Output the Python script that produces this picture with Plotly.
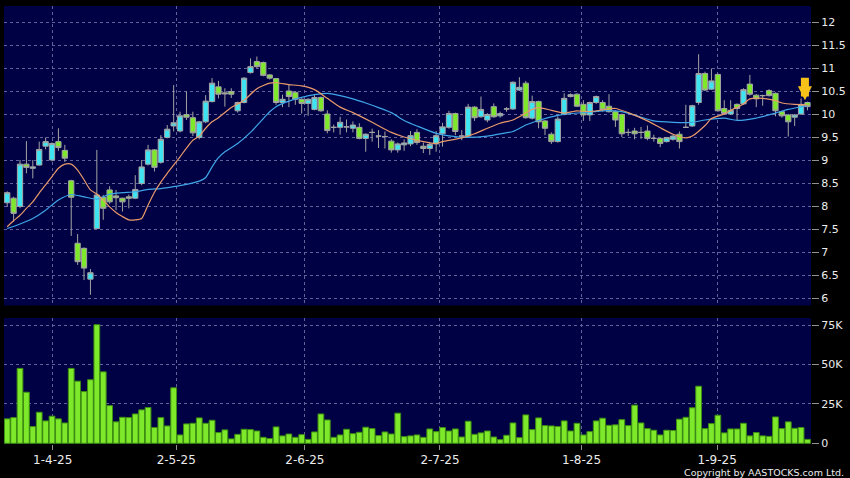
import plotly.graph_objects as go

# ---------------- data ----------------
date_labels = ["1-4-25", "2-5-25", "2-6-25", "2-7-25", "1-8-25", "1-9-25"]
date_label_bar = [7.1, 26.4, 46.5, 67.6, 89.7, 110.9]   # bar index where each date tick sits

open_ = [8.07, 8.17, 7.99, 8.91, 8.82, 8.89, 9.30, 9.00, 9.40, 9.21,
         8.55, 7.19, 7.08, 6.41, 7.51, 8.19, 8.35, 8.22, 8.17, 8.20,
         8.17, 8.49, 8.91, 9.22, 8.95, 9.49, 9.74, 9.63, 9.99, 9.92,
         9.49, 9.83, 10.27, 10.59, 10.46, 10.49, 10.07, 10.25, 10.90, 11.14,
         11.12, 10.85, 10.77, 10.25, 10.50, 10.47, 10.32, 10.23, 10.10, 10.36,
         10.00, 9.71, 9.71, 9.72, 9.69, 9.71, 9.47, 9.60, 9.52, 9.51,
         9.41, 9.22, 9.33, 9.35, 9.60, 9.30, 9.25, 9.35, 9.57, 9.71,
         10.01, 9.52, 9.52, 10.15, 9.94, 9.87, 10.16, 9.96, 10.11, 10.11,
         10.52, 10.67, 9.91, 10.27, 9.85, 9.56, 9.40, 9.99, 10.38, 10.43,
         10.21, 9.98, 10.25, 10.25, 10.17, 10.05, 9.99, 9.60, 9.63, 9.60,
         9.63, 9.47, 9.47, 9.40, 9.45, 9.56, 9.71, 9.74, 10.25, 10.88,
         10.54, 10.86, 10.12, 10.00, 10.21, 10.22, 10.65, 10.41, 10.40, 10.51,
         10.45, 10.05, 9.98, 9.93, 10.00, 10.25]
high = [8.32, 8.20, 9.00, 9.41, 9.00, 9.40, 9.49, 9.38, 9.69, 9.33,
        8.57, 7.39, 7.10, 6.63, 9.22, 8.24, 8.43, 8.35, 8.18, 8.25,
        8.67, 9.00, 9.33, 9.24, 9.54, 9.76, 10.63, 10.05, 10.49, 10.05,
        9.85, 10.41, 10.78, 10.72, 10.56, 10.56, 10.27, 10.80, 11.21, 11.25,
        11.14, 10.87, 10.78, 10.42, 10.65, 10.50, 10.34, 10.34, 10.42, 10.38,
        10.08, 9.77, 9.94, 9.88, 9.84, 9.80, 9.58, 9.68, 9.65, 9.62,
        9.45, 9.38, 9.45, 9.63, 9.67, 9.38, 9.38, 9.63, 9.81, 10.07,
        10.03, 9.65, 10.22, 10.17, 10.38, 10.02, 10.23, 10.05, 10.15, 10.71,
        10.80, 10.72, 10.40, 10.29, 9.87, 9.60, 9.95, 10.45, 10.45, 10.45,
        10.30, 10.27, 10.40, 10.30, 10.43, 10.08, 10.01, 9.68, 9.70, 9.72,
        9.75, 9.55, 9.48, 9.50, 9.55, 9.62, 10.20, 10.20, 11.30, 10.92,
        10.99, 10.88, 10.30, 10.30, 10.23, 10.56, 10.85, 10.43, 10.42, 10.54,
        10.47, 10.07, 10.00, 10.00, 10.34, 10.27]
low = [7.98, 7.66, 7.95, 8.71, 8.60, 8.88, 9.23, 8.97, 9.20, 8.96,
       7.35, 6.72, 6.39, 6.07, 7.51, 7.70, 8.05, 7.91, 7.88, 7.95,
       8.15, 8.45, 8.88, 8.75, 8.92, 9.47, 9.62, 9.60, 9.87, 9.52,
       9.45, 9.80, 10.25, 10.34, 10.16, 10.35, 10.03, 10.23, 10.88, 11.00,
       10.82, 10.75, 10.20, 10.15, 10.15, 10.20, 10.01, 9.96, 10.08, 10.05,
       9.58, 9.60, 9.55, 9.60, 9.60, 9.45, 9.18, 9.40, 9.26, 9.25,
       9.16, 9.16, 9.20, 9.30, 9.33, 9.15, 9.11, 9.18, 9.29, 9.68,
       9.54, 9.43, 9.50, 9.85, 9.92, 9.82, 9.92, 9.92, 10.05, 10.09,
       10.50, 9.90, 9.88, 9.69, 9.54, 9.35, 9.38, 9.97, 10.36, 10.15,
       9.85, 9.85, 10.22, 10.05, 10.03, 9.72, 9.50, 9.52, 9.45, 9.46,
       9.43, 9.40, 9.28, 9.38, 9.42, 9.25, 9.70, 9.72, 10.20, 10.50,
       10.52, 10.05, 9.98, 9.98, 9.87, 10.20, 10.40, 10.15, 10.18, 10.38,
       9.95, 9.92, 9.51, 9.74, 9.98, 10.08]
close = [8.29, 7.84, 8.91, 8.84, 8.85, 9.23, 9.40, 9.36, 9.27, 9.04,
         8.19, 6.79, 6.65, 6.55, 8.24, 7.95, 8.09, 8.18, 8.09, 8.17,
         8.36, 8.85, 9.22, 8.84, 9.45, 9.67, 9.81, 9.96, 9.93, 9.59,
         9.83, 10.28, 10.67, 10.43, 10.44, 10.43, 10.25, 10.78, 11.03, 11.03,
         10.84, 10.78, 10.25, 10.32, 10.38, 10.32, 10.23, 10.32, 10.36, 10.07,
         9.64, 9.71, 9.82, 9.72, 9.76, 9.47, 9.56, 9.60, 9.52, 9.51,
         9.22, 9.35, 9.37, 9.53, 9.38, 9.25, 9.34, 9.53, 9.72, 10.01,
         9.62, 9.52, 10.15, 9.92, 10.10, 9.99, 9.94, 10.01, 10.11, 10.69,
         10.58, 9.92, 10.27, 9.83, 9.69, 9.40, 9.89, 10.34, 10.42, 10.17,
         9.98, 10.25, 10.38, 10.09, 10.05, 9.87, 9.57, 9.60, 9.57, 9.60,
         9.47, 9.47, 9.36, 9.49, 9.52, 9.40, 9.71, 10.18, 10.88, 10.52,
         10.72, 10.07, 10.01, 10.08, 10.12, 10.53, 10.43, 10.33, 10.40, 10.40,
         10.07, 9.96, 9.83, 9.98, 10.21, 10.16]
volume_k = [15.5, 16.3, 47.5, 32.4, 10.6, 19.7, 14.2, 17.2, 15.5, 12.9,
            47.5, 39.4, 32.8, 40.3, 75.2, 45.3, 23.9, 13.6, 16.5, 16.3,
            18.6, 21.2, 22.7, 10.0, 16.3, 11.0, 35.2, 5.3, 12.3, 12.7,
            16.1, 12.7, 14.6, 6.8, 8.5, 2.8, 5.7, 8.9, 8.7, 7.8,
            3.8, 3.0, 10.4, 4.7, 5.9, 3.8, 5.5, 2.5, 7.2, 18.6,
            14.8, 3.8, 5.3, 8.9, 6.1, 7.0, 10.2, 9.3, 4.9, 7.2,
            5.9, 19.1, 4.2, 4.7, 5.3, 3.8, 9.1, 7.4, 10.0, 7.8,
            9.1, 4.0, 14.0, 5.7, 6.6, 7.8, 4.0, 2.3, 5.1, 12.9,
            3.6, 18.0, 8.7, 16.1, 11.2, 11.0, 10.6, 14.2, 7.8, 12.7,
            5.3, 7.4, 14.2, 15.9, 11.4, 11.7, 15.0, 11.2, 24.2, 12.9,
            9.3, 8.3, 5.3, 8.3, 8.1, 15.3, 16.5, 22.5, 36.2, 9.3,
            12.5, 17.8, 6.6, 9.1, 9.1, 12.7, 4.7, 6.8, 4.7, 4.4,
            16.7, 9.3, 13.6, 9.5, 10.0, 2.5]

ma_short_bar = [0, 1, 2, 3, 4, 5, 6, 7, 8, 9, 10, 11, 12, 13, 14, 15, 16, 17, 18, 19,
                20, 21, 22, 23, 24, 25, 26, 27, 28, 29, 30, 31, 32, 33, 35, 37, 39, 41, 42, 44,
                46, 48, 50, 52, 54, 57, 60, 62, 65, 67, 68, 71, 73, 75, 77, 79, 80, 82, 83, 85,
                87, 89, 91, 93, 95, 97, 100, 102, 104, 106, 107, 109, 110, 112, 113, 115, 116, 118,
                120, 121, 123, 125]
ma_short = [7.55, 7.68, 7.80, 7.95, 8.09, 8.28, 8.46, 8.64, 8.82, 8.91, 8.91, 8.78, 8.57, 8.35,
            8.26, 8.13, 7.98, 7.86, 7.77, 7.70, 7.70, 7.73, 8.02, 8.30, 8.52, 8.71, 8.89, 9.07,
            9.26, 9.43, 9.52, 9.69, 9.83, 9.92, 10.14, 10.30, 10.55, 10.67, 10.68, 10.64, 10.61,
            10.53, 10.34, 10.15, 10.03, 9.82, 9.60, 9.50, 9.40, 9.36, 9.40, 9.48, 9.57, 9.69,
            9.80, 9.87, 9.94, 10.10, 10.14, 10.08, 10.02, 10.07, 10.05, 10.09, 10.12, 10.03,
            9.85, 9.70, 9.56, 9.48, 9.52, 9.75, 9.90, 10.00, 10.08, 10.22, 10.33, 10.34, 10.29,
            10.24, 10.21, 10.20]
ma_long_bar = [0, 2, 4, 6, 8, 10, 12, 14, 16, 18, 20, 22, 24, 26, 28, 30, 31, 32, 33, 34,
               36, 38, 40, 41, 42, 44, 46, 48, 50, 52, 54, 56, 58, 60, 62, 64, 67, 70, 72, 75,
               77, 79, 81, 83, 86, 88, 91, 93, 96, 99, 101, 104, 107, 109, 112, 114, 117, 120,
               122, 125]
ma_long = [7.51, 7.61, 7.73, 7.91, 8.13, 8.25, 8.20, 8.15, 8.26, 8.29, 8.31, 8.36, 8.38, 8.42,
           8.47, 8.54, 8.62, 8.85, 9.05, 9.18, 9.36, 9.60, 9.90, 10.05, 10.16, 10.28, 10.36,
           10.42, 10.45, 10.40, 10.33, 10.24, 10.14, 10.03, 9.86, 9.74, 9.58, 9.51, 9.49, 9.52,
           9.57, 9.62, 9.76, 9.86, 9.97, 10.01, 10.04, 10.07, 10.05, 9.93, 9.85, 9.82, 9.82,
           9.87, 9.91, 9.86, 9.91, 10.02, 10.10, 10.18]

price_ticks = [6, 6.5, 7, 7.5, 8, 8.5, 9, 9.5, 10, 10.5, 11, 11.5, 12]
price_tick_text = ["6", "6.5", "7", "7.5", "8", "8.5", "9", "9.5", "10", "10.5", "11", "11.5", "12"]
vol_ticks = [0, 25, 50, 75]
vol_tick_text = ["0", "25K", "50K", "75K"]

bars = list(range(len(close)))

# ---------------- styles ----------------
PANEL = "#000044"
GRID = "#62629a"
TXT = "#ececec"
FONT = "DejaVu Sans"
CYAN = "#3fe4f2"
LIME = "#7ee82a"
WICK = "#a4a4a4"

fig = go.Figure()

fig.add_trace(go.Candlestick(
    x=bars, open=open_, high=high, low=low, close=close,
    increasing=dict(fillcolor=CYAN, line=dict(color=WICK, width=1)),
    decreasing=dict(fillcolor=LIME, line=dict(color=WICK, width=1)),
    whiskerwidth=0, xaxis="x", yaxis="y", showlegend=False, hoverinfo="skip"))

fig.add_trace(go.Scatter(x=ma_long_bar, y=ma_long, mode="lines",
                         line=dict(color="#3ea6e8", width=1.2, shape="spline", smoothing=0.6),
                         xaxis="x", yaxis="y", showlegend=False, hoverinfo="skip"))
fig.add_trace(go.Scatter(x=ma_short_bar, y=ma_short, mode="lines",
                         line=dict(color="#e89a6a", width=1.2, shape="spline", smoothing=0.6),
                         xaxis="x", yaxis="y", showlegend=False, hoverinfo="skip"))

fig.add_trace(go.Bar(x=bars, y=volume_k, marker=dict(color=LIME, line=dict(color="#3d8f12", width=1)),
                     width=0.9, xaxis="x2", yaxis="y2", showlegend=False, hoverinfo="skip"))

# latest-price arrow
fig.add_annotation(x=bars[-1] - 0.4, y=10.30, xref="x", yref="y", text="",
                   showarrow=True, arrowhead=2, arrowwidth=8, arrowsize=0.35,
                   arrowcolor="#f6c21a", ax=0, ay=-24)

fig.add_annotation(text="Copyright by AASTOCKS.com Ltd.", xref="paper", yref="paper",
                   x=1.0435, y=-0.064, xanchor="right", yanchor="middle", showarrow=False,
                   font=dict(family=FONT, size=9.5, color=TXT))

xr = [-0.5, len(close) - 0.45]
common_x = dict(range=xr, tickvals=date_label_bar, showgrid=True, gridcolor=GRID,
                griddash="3px,3px", gridwidth=1, zeroline=False, showline=False)

fig.update_layout(
    width=850, height=478,
    margin=dict(l=4, r=37, t=6, b=34),
    paper_bgcolor="#000000", plot_bgcolor=PANEL,
    boxgap=0.18, boxgroupgap=0,
    font=dict(family=FONT, color=TXT, size=11),
    xaxis=dict(domain=[0, 1], anchor="y", showticklabels=False, ticks="",
               rangeslider=dict(visible=False), **common_x),
    xaxis2=dict(domain=[0, 1], anchor="y2", matches="x", ticktext=date_labels,
                ticks="outside", ticklen=5, tickcolor="#909090",
                tickfont=dict(family=FONT, size=12, color=TXT), **common_x),
    yaxis=dict(domain=[0.3162, 1], side="right", range=[5.837, 12.348],
               tickvals=price_ticks, ticktext=price_tick_text,
               ticks="outside", ticklen=7, tickcolor="#909090",
               showgrid=True, gridcolor=GRID, griddash="3px,3px", zeroline=False,
               tickfont=dict(family=FONT, size=11, color=TXT)),
    yaxis2=dict(domain=[0, 0.2877], side="right", range=[-0.44, 79.46],
                tickvals=vol_ticks, ticktext=vol_tick_text,
                ticks="outside", ticklen=7, tickcolor="#909090",
                showgrid=True, gridcolor=GRID, griddash="3px,3px", zeroline=False,
                tickfont=dict(family=FONT, size=11, color=TXT)),
    bargap=0.1,
)

fig.write_html("out.html", config={"displayModeBar": False},
               post_script="document.body.style.margin='0';document.body.style.padding='0';"
                           "document.body.style.background='#000';")
